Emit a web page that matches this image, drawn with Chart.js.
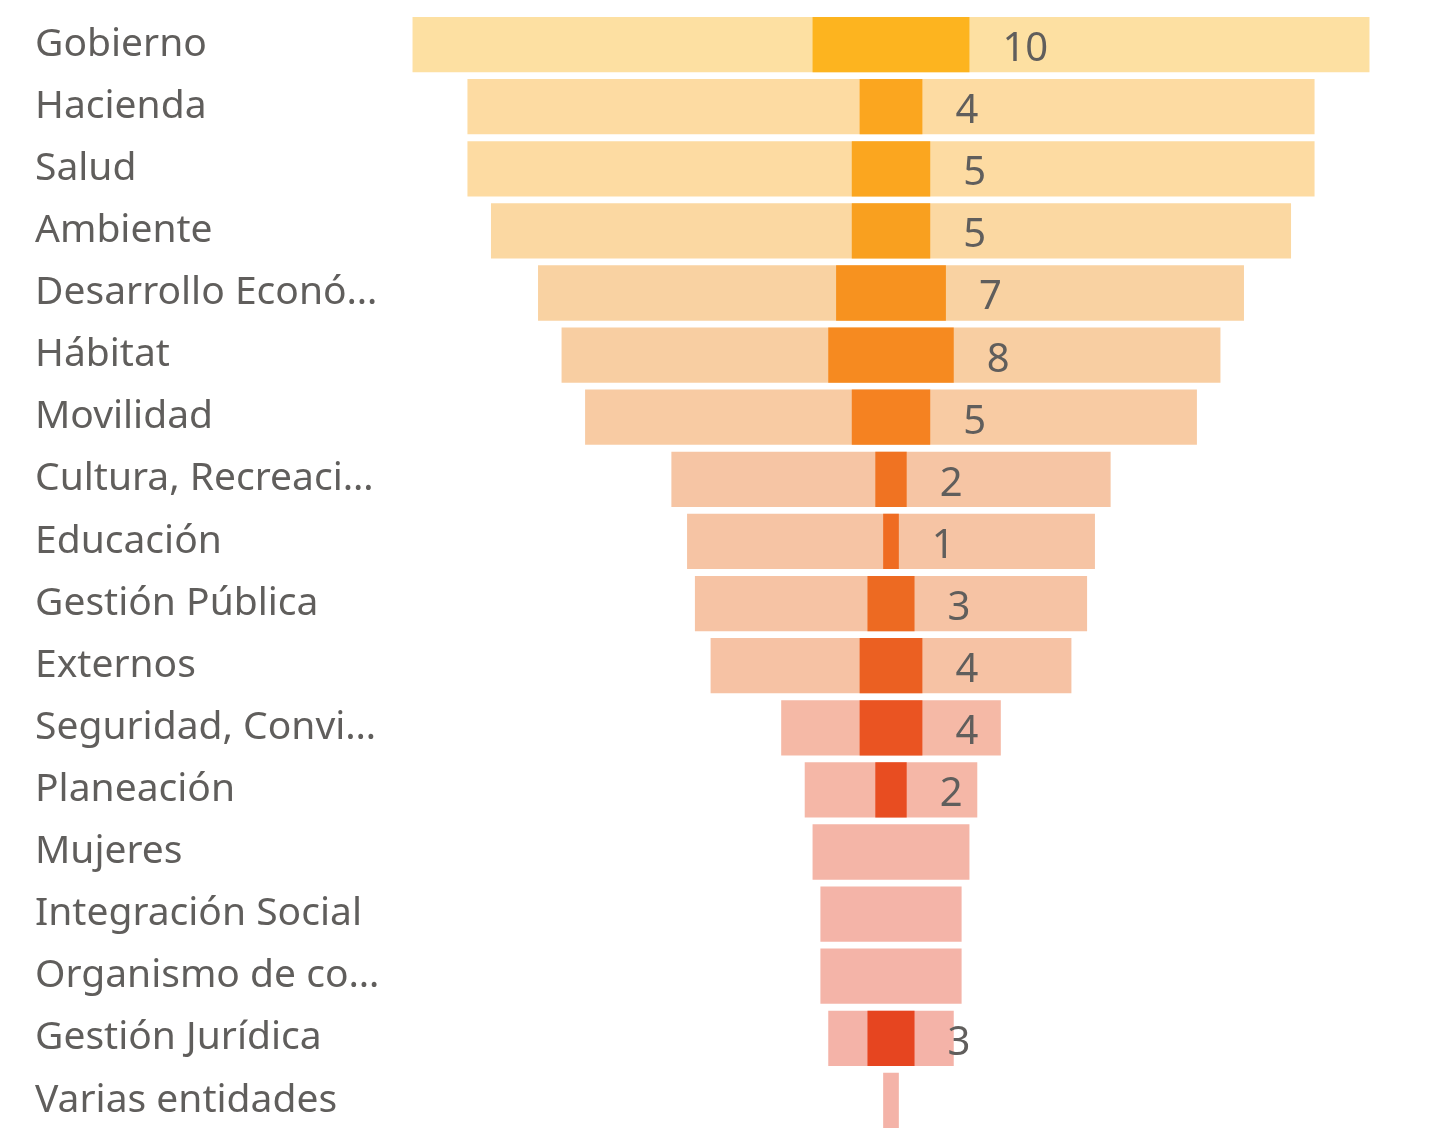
<!DOCTYPE html>
<html>
<head>
<meta charset="utf-8">
<script src="https://cdn.jsdelivr.net/npm/chart.js@4.4.0/dist/chart.umd.min.js"></script>
<style>
  html, body { margin: 0; padding: 0; background: #fff; }
  #wrap { width: 1442px; height: 1136px; position: relative; }
</style>
</head>
<body>
<div id="wrap"><canvas id="funnelChart"></canvas></div>
<script>
// Categories (as shown, truncated like the original)
const categories = [
    'Gobierno', 'Hacienda', 'Salud', 'Ambiente', 'Desarrollo Econó…', 'Hábitat',
    'Movilidad', 'Cultura, Recreaci…', 'Educación', 'Gestión Pública', 'Externos',
    'Seguridad, Convi…', 'Planeación', 'Mujeres', 'Integración Social',
    'Organismo de co…', 'Gestión Jurídica', 'Varias entidades'
];

// Outer (total) values
const totalValues = [61, 54, 54, 51, 45, 42, 39, 28, 26, 25, 23, 14, 11, 10, 9, 9, 8, 1];

// Inner (highlighted) values, shown as labels
const innerValues = [10, 4, 5, 5, 7, 8, 5, 2, 1, 3, 4, 4, 2, 0, 0, 0, 3, 0];

// Colours per row
const outerColors = [
    '#FDE0A2', '#FDDBA2', '#FDDBA2', '#FBD8A2', '#F9D2A2', '#F8CEA2',
    '#F8CBA3', '#F6C5A4', '#F6C4A4', '#F6C3A4', '#F6C2A4', '#F5B9A6',
    '#F5B7A7', '#F4B5A7', '#F4B4A8', '#F4B4A8', '#F4B3A8', '#F4B3A8'
];
const innerColors = [
    '#FDB41F', '#FBA61F', '#FBA61F', '#F9A01F', '#F7921F', '#F68A20',
    '#F58221', '#F07322', '#EF6C22', '#ED6A22', '#EB6022', '#EA5422',
    '#E84D21', '#E74A21', '#E74821', '#E74721', '#E64520', '#E64420'
];

const centered = arr => arr.map(v => [-v / 2, v / 2]);

// Draws the inner value to the right of each inner bar
const valueLabels = {
    id: 'valueLabels',
    afterDatasetsDraw(chart) {
        const ctx = chart.ctx;
        const meta = chart.getDatasetMeta(0);
        ctx.save();
        ctx.font = '40px "Noto Sans", sans-serif';
        ctx.fillStyle = '#605E5C';
        ctx.textAlign = 'left';
        ctx.textBaseline = 'middle';
        meta.data.forEach((bar, i) => {
            if (!innerValues[i]) return;
            const right = Math.max(bar.x, bar.base);
            ctx.fillText(String(innerValues[i]), right + 33, bar.y + 5);
        });
        ctx.restore();
    }
};

const chart = new Chart(document.getElementById('funnelChart'), {
    type: 'bar',
    data: {
        labels: categories,
        datasets: [
            {
                label: 'Inner',
                data: centered(innerValues),
                backgroundColor: innerColors,
                grouped: false,
                order: 0,
                categoryPercentage: 1,
                barPercentage: 0.89
            },
            {
                label: 'Total',
                data: centered(totalValues),
                backgroundColor: outerColors,
                grouped: false,
                order: 1,
                categoryPercentage: 1,
                barPercentage: 0.89
            }
        ]
    },
    options: {
        indexAxis: 'y',
        responsive: true,
        maintainAspectRatio: false,
        animation: false,
        layout: {
            padding: { top: 13.5, bottom: 4.5, left: 35, right: 49 }
        },
        plugins: {
            legend: { display: false },
            tooltip: { enabled: false }
        },
        scales: {
            x: {
                min: -32,
                max: 32,
                display: false,
                grid: { display: false }
            },
            y: {
                grid: { display: false },
                border: { display: false },
                afterFit(scale) {
                    scale.width = 354;
                    scale.paddingTop = 0;
                    scale.paddingBottom = 0;
                },
                ticks: {
                    crossAlign: 'far',
                    padding: 0,
                    color: '#605E5C',
                    font: { family: '"Noto Sans", sans-serif', size: 39 }
                }
            }
        }
    },
    plugins: [valueLabels]
});
</script>
</body>
</html>
